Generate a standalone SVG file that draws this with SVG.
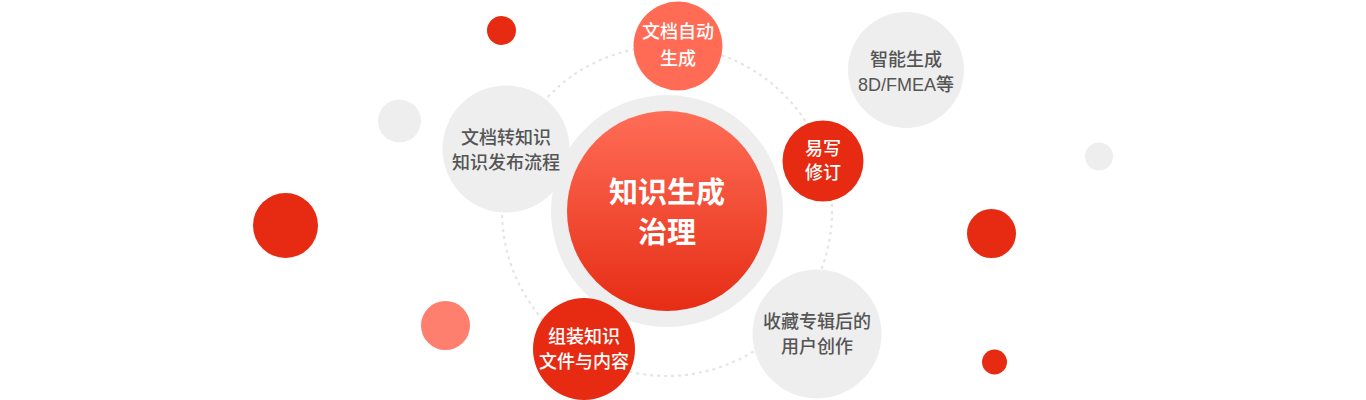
<svg xmlns="http://www.w3.org/2000/svg" width="1366" height="400" viewBox="0 0 1366 400">
<defs>
<linearGradient id="coreGrad" x1="0" y1="0" x2="0" y2="1">
<stop offset="0" stop-color="#FF6D57"/>
<stop offset="1" stop-color="#E62D15"/>
</linearGradient>
</defs>
<style>
.red{fill:#E62B12}
.coral{fill:#FF6B55}
.pink{fill:#FF7F6E}
.gray{fill:#EEEEEE}
.t{font-family:"Liberation Sans","Noto Sans CJK SC",sans-serif;font-size:18px;font-weight:500;text-anchor:middle;dominant-baseline:central}
.tw{fill:#FFFFFF}
.tg{fill:#555555}
.core{font-family:"Noto Sans CJK SC","Noto Sans",sans-serif;font-size:29px;font-weight:bold;fill:#FFFFFF;text-anchor:middle;dominant-baseline:central}
.orbit{fill:none;stroke:#E5E5E5;stroke-width:2.2;stroke-dasharray:3 4}
</style>
<rect width="1366" height="400" fill="#FFFFFF"/>
<g id="decor">
<circle class="red" cx="501.5" cy="30.5" r="14.5"/>
<circle class="gray" cx="399.5" cy="121" r="21.5"/>
<circle class="red" cx="285.5" cy="225.5" r="32.5"/>
<circle class="pink" cx="445.5" cy="325.5" r="24.5"/>
<circle class="gray" cx="1099" cy="156.5" r="14"/>
<circle class="red" cx="991.5" cy="233.5" r="24.5"/>
<circle class="red" cx="994.5" cy="362" r="12.5"/>
</g>
<g id="connectors">
<circle class="orbit" cx="667" cy="211" r="165"/>
</g>
<g id="core">
<circle class="gray" cx="667" cy="211" r="116"/>
<circle cx="667" cy="211" r="100" fill="url(#coreGrad)"/>
<text class="core" x="667" y="190">知识生成</text>
<text class="core" x="667" y="230">治理</text>
</g>
<g id="node-doc-auto">
<circle class="coral" cx="678" cy="46" r="44.5"/>
<text class="t tw" x="678" y="32">文档自动</text>
<text class="t tw" x="678" y="59">生成</text>
</g>
<g id="node-doc-to-knowledge">
<circle class="gray" cx="506" cy="149" r="63.5"/>
<text class="t tg" x="506" y="138">文档转知识</text>
<text class="t tg" x="506" y="163">知识发布流程</text>
</g>
<g id="node-smart">
<circle class="gray" cx="906" cy="70" r="58"/>
<text class="t tg" x="906" y="60">智能生成</text>
<text class="t tg" x="906" y="85">8D/FMEA等</text>
</g>
<g id="node-revise">
<circle class="red" cx="823" cy="161" r="40.5"/>
<text class="t tw" x="823" y="149">易写</text>
<text class="t tw" x="823" y="173">修订</text>
</g>
<g id="node-collect">
<circle class="gray" cx="817" cy="334" r="64.5"/>
<text class="t tg" x="817" y="322">收藏专辑后的</text>
<text class="t tg" x="817" y="347">用户创作</text>
</g>
<g id="node-assemble">
<circle class="red" cx="584" cy="349" r="51"/>
<text class="t tw" x="584" y="337">组装知识</text>
<text class="t tw" x="584" y="362">文件与内容</text>
</g>
</svg>
